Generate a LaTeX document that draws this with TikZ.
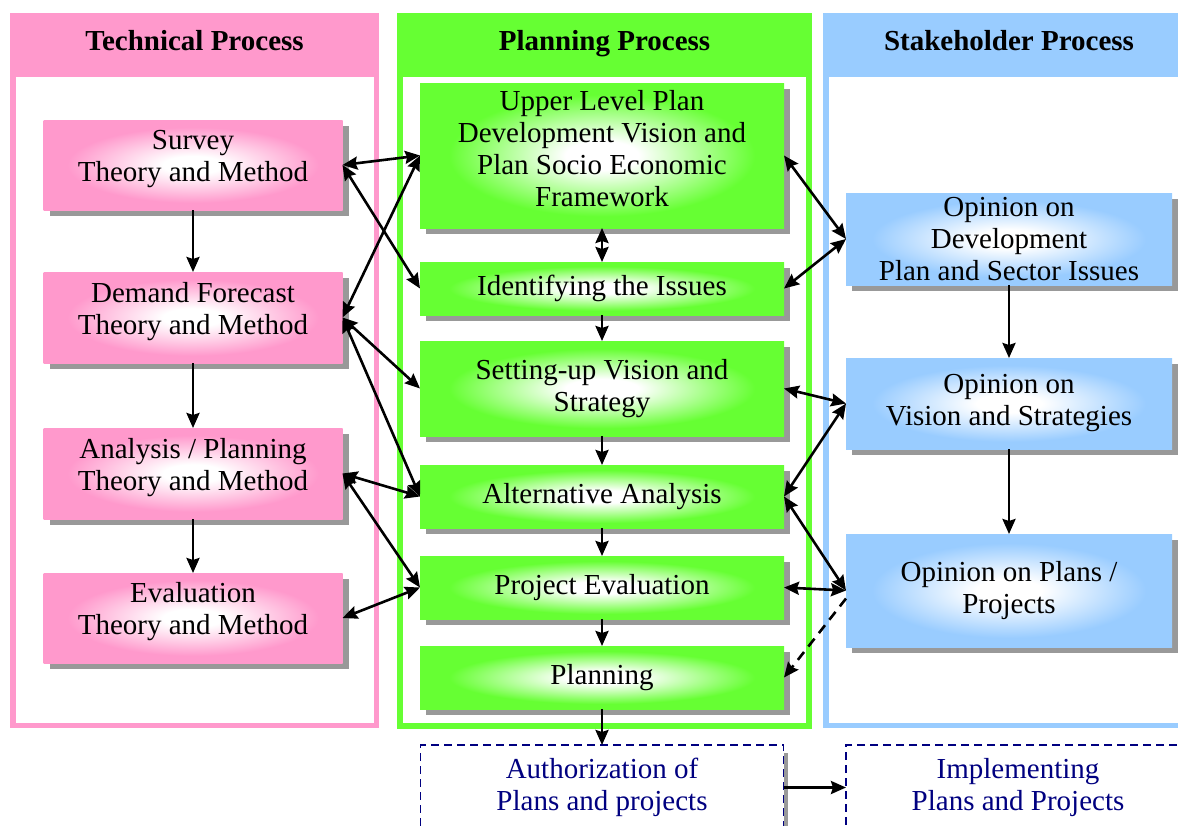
\documentclass[tikz,border=0pt]{standalone}
\usepackage{fontspec}
\setmainfont{Liberation Serif}
\usetikzlibrary{arrows.meta,positioning,shadows}

\definecolor{techpink}{HTML}{FF99CC}
\definecolor{plangreen}{HTML}{66FF33}
\definecolor{stakeblue}{HTML}{99CCFF}
\definecolor{authnavy}{HTML}{000080}
\definecolor{shadowgray}{HTML}{999999}

% white glow in the middle of the boxes
\pgfdeclareradialshading{pinkglow}{\pgfpoint{0bp}{0bp}}{color(0bp)=(white); color(5bp)=(white); color(21bp)=(techpink); color(50bp)=(techpink)}
\pgfdeclareradialshading{greenglow}{\pgfpoint{0bp}{0bp}}{color(0bp)=(white); color(5bp)=(white); color(21bp)=(plangreen); color(50bp)=(plangreen)}
\pgfdeclareradialshading{blueglow}{\pgfpoint{0bp}{0bp}}{color(0bp)=(white); color(5bp)=(white); color(21bp)=(stakeblue); color(50bp)=(stakeblue)}

\tikzset{
    panel/.style={
           rectangle,
           fill=none,
           outer sep=0pt,
           },
    header/.style={
           rectangle,
           outer sep=0pt,
           text depth=10pt,
           font=\fontsize{29}{32}\selectfont\bfseries,
           },
    procbox/.style={
           rectangle,
           draw=none,
           outer sep=0pt,
           inner sep=2pt,
           align=center,
           font=\fontsize{29}{32}\selectfont,
           drop shadow={shadow xshift=6pt, shadow yshift=-6pt, fill=shadowgray, opacity=1},
           },
    techbox/.style={procbox, shading=pinkglow, minimum width=299pt, text depth=19pt},
    planbox/.style={procbox, shading=greenglow, minimum width=364pt},
    stakebox/.style={procbox, shading=blueglow, minimum width=326pt},
    authbox/.style={
           rectangle,
           draw=authnavy, fill=white,
           line width=1.6pt,
           dash pattern=on 8pt off 5pt,
           outer sep=0pt,
           align=center,
           text=authnavy,
           font=\fontsize{29}{32}\selectfont,
           drop shadow={shadow xshift=4pt, shadow yshift=-8pt, fill=shadowgray, opacity=1},
           },
    link/.style={<->, line width=2.6pt},
    flow/.style={->, line width=2.6pt},
}

\begin{document}
\begin{tikzpicture}[x=1pt, y=-1pt, >={Stealth[length=15pt,width=13pt,inset=2pt]}]
  \clip (0,0) rectangle (1178,825);

  % the three process columns
  \node[panel, draw=techpink, line width=5.5pt, anchor=north west,
        minimum width=363.5pt, minimum height=709.5pt] (TECHPANEL) at (12.75,15.75) {};
  \node[header, fill=techpink, anchor=north west,
        minimum width=369pt, minimum height=64pt] (TECHHEAD) at (10,13) {Technical Process};

  \node[panel, draw=plangreen, line width=6pt, anchor=north west,
        minimum width=409pt, minimum height=710pt] (PLANPANEL) at (400,16) {};
  \node[header, fill=plangreen, anchor=north west,
        minimum width=415pt, minimum height=64pt] (PLANHEAD) at (397,13) {Planning Process};

  \node[panel, draw=stakeblue, line width=5.5pt, anchor=north west,
        minimum width=370pt, minimum height=709.5pt] (STAKEPANEL) at (825.75,15.75) {};
  \node[header, fill=stakeblue, anchor=north west,
        minimum width=372pt, minimum height=64pt] (STAKEHEAD) at (823,13) {Stakeholder Process};

  % technical process
  \node[techbox, minimum height=90pt] (SURVEY) at (193,165)
    {Survey\\Theory and Method};
  \node[techbox, minimum height=91pt, below=62pt of SURVEY] (DEMAND)
    {Demand Forecast\\Theory and Method};
  \node[techbox, minimum height=91pt, below=65pt of DEMAND] (ANALYSIS)
    {Analysis / Planning\\Theory and Method};
  \node[techbox, minimum height=90pt, below=54pt of ANALYSIS] (EVAL)
    {Evaluation\\Theory and Method};

  % planning process
  \node[planbox, minimum height=145pt, text depth=15pt] (UPPER) at (602,155.5)
    {Upper Level Plan\\Development Vision and\\Plan Socio Economic\\Framework};
  \node[planbox, minimum height=53pt, below=34pt of UPPER] (ISSUES)
    {Identifying the Issues};
  \node[planbox, minimum height=95pt, below=26pt of ISSUES] (SETUP)
    {Setting-up Vision and\\Strategy};
  \node[planbox, minimum height=63pt, below=29pt of SETUP] (ALTERN)
    {Alternative Analysis};
  \node[planbox, minimum height=63pt, below=28pt of ALTERN] (PROJEVAL)
    {Project Evaluation};
  \node[planbox, minimum height=63pt, below=27pt of PROJEVAL] (PLANNING)
    {Planning};

  % stakeholder process
  \node[stakebox, minimum height=92pt] (OPDEV) at (1009,239)
    {Opinion on\\Development\\Plan and Sector Issues};
  \node[stakebox, minimum height=91pt, below=73pt of OPDEV] (OPVISION)
    {Opinion on\\Vision and Strategies};
  \node[stakebox, minimum height=113pt, below=85pt of OPVISION] (OPPLANS)
    {Opinion on Plans /\\Projects};

  % after planning
  \node[authbox, minimum width=363pt, minimum height=85pt] (AUTH) at (602,787.5)
    {Authorization of\\Plans and projects};
  \node[authbox, minimum width=344pt, minimum height=85pt] (IMPL) at (1018,787.5)
    {Implementing\\Plans and Projects};

  % flow inside the columns
  \draw[flow] (SURVEY) -- (DEMAND);
  \draw[flow] (DEMAND) -- (ANALYSIS);
  \draw[flow] (ANALYSIS) -- (EVAL);

  \draw[link] (UPPER) -- (ISSUES);
  \draw[flow] (ISSUES) -- (SETUP);
  \draw[flow] (SETUP) -- (ALTERN);
  \draw[flow] (ALTERN) -- (PROJEVAL);
  \draw[flow] (PROJEVAL) -- (PLANNING);
  \draw[flow] (PLANNING) -- (AUTH);
  \draw[flow] (AUTH.east) -- (IMPL.west);

  \draw[flow] (OPDEV) -- (OPVISION);
  \draw[flow] (OPVISION) -- (OPPLANS);

  % technical <-> planning
  \draw[link] (SURVEY.east) -- (UPPER.west);
  \draw[link] (SURVEY.east) -- (ISSUES.west);
  \draw[link] (DEMAND.east) -- (UPPER.west);
  \draw[link] (DEMAND.east) -- (SETUP.west);
  \draw[link] (DEMAND.east) -- (ALTERN.west);
  \draw[link] (ANALYSIS.east) -- (ALTERN.west);
  \draw[link] (ANALYSIS.east) -- (PROJEVAL.west);
  \draw[link] (EVAL.east) -- (PROJEVAL.west);

  % planning <-> stakeholder
  \draw[link] (UPPER.east) -- (OPDEV.west);
  \draw[link] (ISSUES.east) -- (OPDEV.west);
  \draw[link] (SETUP.east) -- (OPVISION.west);
  \draw[link] (ALTERN.east) -- (OPVISION.west);
  \draw[link] (ALTERN.east) -- (OPPLANS.west);
  \draw[link] (PROJEVAL.east) -- (OPPLANS.west);
  \draw[flow, dash pattern=on 10pt off 7pt] ([yshift=-8pt]OPPLANS.west) -- (PLANNING.east);
\end{tikzpicture}
\end{document}
